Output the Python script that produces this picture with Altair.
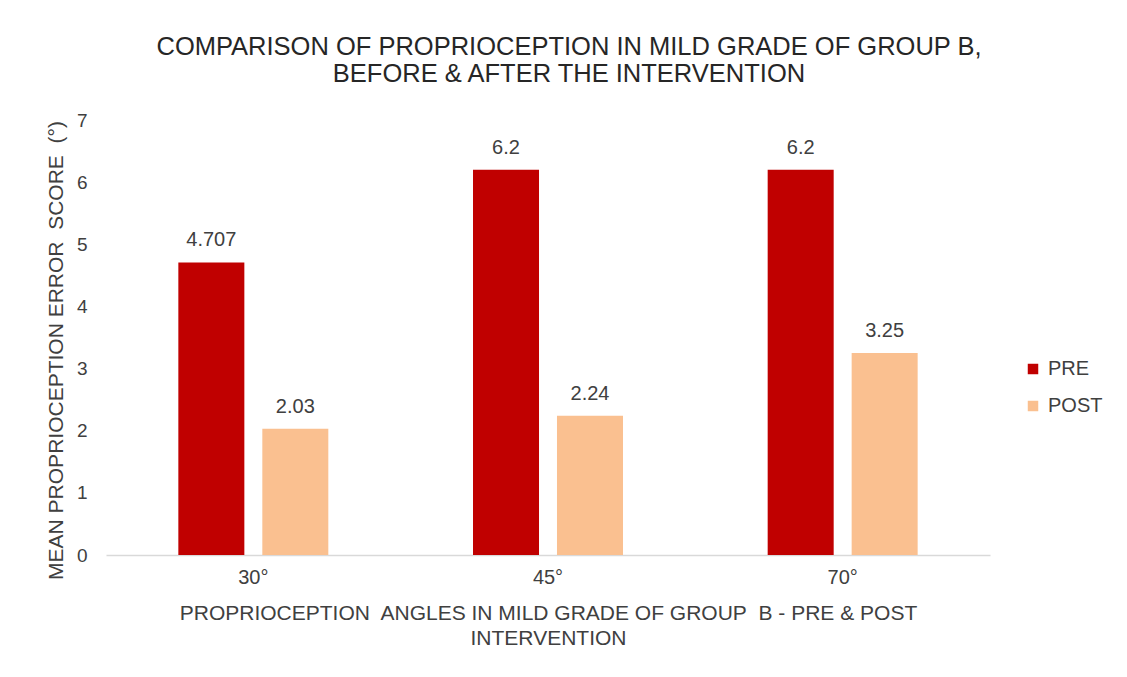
import altair as alt
import pandas as pd

angles = ["30°", "45°", "70°"]
phases = ["PRE", "POST"]
pre_values = [4.707, 6.2, 6.2]
post_values = [2.03, 2.24, 3.25]
pre_labels = ["4.707", "6.2", "6.2"]
post_labels = ["2.03", "2.24", "3.25"]
colors = ["#C00000", "#FAC090"]

rows = []
for a, v, l in zip(angles, pre_values, pre_labels):
    rows.append({"angle": a, "phase": "PRE", "value": v, "label": l})
for a, v, l in zip(angles, post_values, post_labels):
    rows.append({"angle": a, "phase": "POST", "value": v, "label": l})
df = pd.DataFrame(rows)

FONT = "Liberation Sans"
SP2 = "\u00a0 "

x = alt.X(
    "angle:N",
    sort=angles,
    scale=alt.Scale(paddingInner=0.491, paddingOuter=0.2455),
    axis=alt.Axis(
        title=[f"PROPRIOCEPTION{SP2}ANGLES IN MILD GRADE OF GROUP{SP2}B - PRE & POST", "INTERVENTION"],
        labelAngle=0,
        labelFont=FONT,
        labelFontSize=20,
        labelColor="#404040",
        labelPadding=12,
        ticks=False,
        domainColor="#D9D9D9",
        domainWidth=1.5,
        titleFont=FONT,
        titleFontSize=21,
        titleFontWeight="normal",
        titleColor="#404040",
        titleBaseline="top",
        titleLineHeight=25,
        titleY=47,
    ),
)
xoff = alt.XOffset("phase:N", sort=phases, scale=alt.Scale(paddingInner=0.214, paddingOuter=0))
y = alt.Y(
    "value:Q",
    scale=alt.Scale(domain=[0, 7]),
    axis=alt.Axis(
        title=f"MEAN PROPRIOCEPTION ERROR{SP2}SCORE{SP2}(°)",
        values=[0, 1, 2, 3, 4, 5, 6, 7],
        grid=False,
        domain=False,
        ticks=False,
        labelFont=FONT,
        labelFontSize=19,
        labelColor="#404040",
        labelPadding=19,
        titleFont=FONT,
        titleFontSize=21,
        titleFontWeight="normal",
        titleColor="#404040",
        titleX=-40,
        titleY=230,
    ),
)
color = alt.Color(
    "phase:N",
    sort=phases,
    scale=alt.Scale(domain=phases, range=colors),
    legend=alt.Legend(
        title=None,
        orient="none",
        legendX=917,
        legendY=239,
        symbolType="square",
        symbolSize=110,
        symbolStrokeWidth=0,
        labelFont=FONT,
        labelFontSize=20,
        labelColor="#404040",
        labelOffset=5,
        rowPadding=17,
        padding=0,
    ),
)

bars = alt.Chart(df).mark_bar(stroke=None).encode(x=x, xOffset=xoff, y=y, color=color)
labels = alt.Chart(df).mark_text(
    font=FONT, fontSize=20, color="#404040", baseline="alphabetic", dy=-16
).encode(x=x, xOffset=xoff, y=y, text="label:N")

chart = (
    alt.layer(bars, labels)
    .properties(
        width=884,
        height=435,
        autosize=alt.AutoSizeParams(type="none"),
        padding={"left": 98, "top": 112, "right": 129, "bottom": 114},
        title=alt.TitleParams(
            text=["COMPARISON OF PROPRIOCEPTION IN MILD GRADE OF GROUP B,", "BEFORE & AFTER THE INTERVENTION"],
            font=FONT,
            fontSize=25.5,
            fontWeight="normal",
            color="#262626",
            anchor="middle",
            dx=21,
            offset=24,
            lineHeight=27,
        ),
        background="white",
    )
    .configure_view(stroke=None)
)

chart.save("out.html", embed_options={"renderer": "svg", "actions": False})
